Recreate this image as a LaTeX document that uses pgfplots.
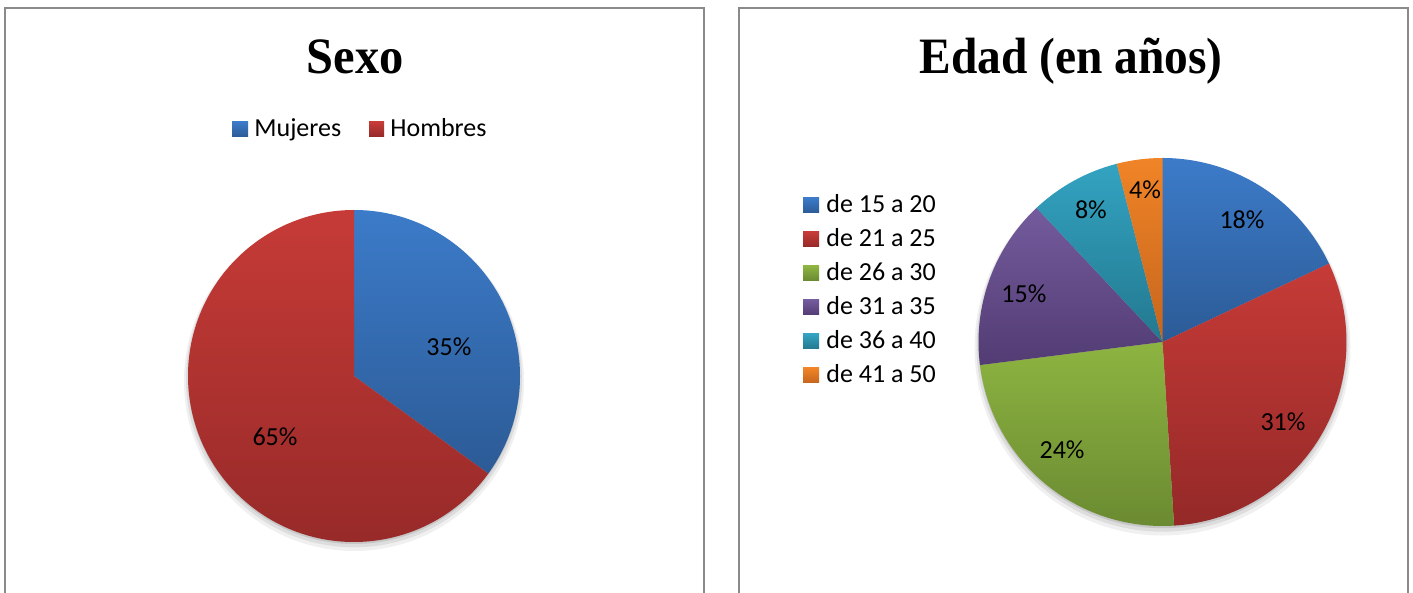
\documentclass[border=0pt]{standalone}
\usepackage{pgfplots}
\pgfplotsset{compat=1.18}
\usepackage{fontspec}
\setmainfont{Carlito}
\newfontfamily\titlefont{Liberation Serif}

\definecolor{blueT}{HTML}{3C7BC9}\definecolor{blueB}{HTML}{2C5B96}
\definecolor{redT}{HTML}{C63B37}\definecolor{redB}{HTML}{942928}
\definecolor{greenT}{HTML}{8DB441}\definecolor{greenB}{HTML}{6A8931}
\definecolor{purT}{HTML}{745B9D}\definecolor{purB}{HTML}{523C73}
\definecolor{tealT}{HTML}{33A3C1}\definecolor{tealB}{HTML}{23788F}
\definecolor{oraT}{HTML}{F08427}\definecolor{oraB}{HTML}{C5651D}
\definecolor{frame}{HTML}{8A8A8A}

% #1 start percent, #2 end percent, #3 radius, #4 top colour, #5 bottom colour
\newcommand{\slice}[5]{%
  \shade[top color=#4,bottom color=#5]
    (axis cs:0,0) -- (axis cs:{cos(90-3.6*(#1))},{sin(90-3.6*(#1))})
    arc[start angle={90-3.6*(#1)}, end angle={90-3.6*(#2)}, radius=#3] -- cycle;}
\newcommand{\pieshadow}[1]{%
  \fill[black,opacity=0.06] (axis cs:0,-0.03) circle[radius=#1+2pt];
  \fill[black,opacity=0.08] (axis cs:0,-0.02) circle[radius=#1+1pt];
  \fill[black,opacity=0.10] (axis cs:0,-0.012) circle[radius=#1];}

\begin{document}
\begin{tikzpicture}[x=0.5pt,y=0.5pt]
\useasboundingbox (0,0) rectangle (1413,593);
\fill[white] (0,0) rectangle (1413,593);

% panel frames
\draw[frame,line width=1pt] (5,0) -- (5,585) -- (704,585) -- (704,0);
\draw[frame,line width=1pt] (739,0) -- (739,585) -- (1408,585) -- (1408,0);

% titles
\node[anchor=base,inner sep=0pt,xscale=0.95,font=\titlefont\bfseries\fontsize{25.5pt}{30pt}\selectfont] at (355,519) {Sexo};
\node[anchor=base,inner sep=0pt,xscale=0.93,font=\titlefont\bfseries\fontsize{25.5pt}{30pt}\selectfont] at (1071,519) {Edad (en años)};

% left legend
\shade[top color=blueT,bottom color=blueB] (232,456) rectangle (248,471);
\node[anchor=base west,inner sep=0pt,font=\fontsize{13pt}{15pt}\selectfont] at (254,456) {Mujeres};
\shade[top color=redT,bottom color=redB] (369,456) rectangle (384,471);
\node[anchor=base west,inner sep=0pt,font=\fontsize{13pt}{15pt}\selectfont] at (390,456) {Hombres};

% right legend
\foreach \k/\ct/\cb/\t in {0/blueT/blueB/de 15 a 20,1/redT/redB/de 21 a 25,2/greenT/greenB/de 26 a 30,3/purT/purB/de 31 a 35,4/tealT/tealB/de 36 a 40,5/oraT/oraB/de 41 a 50}{
  \shade[top color=\ct,bottom color=\cb] (803,{380-34*\k}) rectangle (819,{395-34*\k});
  \node[anchor=base west,inner sep=0pt,font=\fontsize{13pt}{15pt}\selectfont] at (826,{380-34*\k}) {\t};
}

% left pie: Sexo
\begin{axis}[hide axis, clip=false, x=83pt, y=83pt,
  xmin=-1.2, xmax=1.2, ymin=-1.2, ymax=1.2,
  anchor=origin, at={(177pt,108.5pt)}]
  \pieshadow{83pt}
  \slice{0}{35}{83pt}{blueT}{blueB}
  \slice{35}{100}{83pt}{redT}{redB}
  \node[font=\fontsize{13pt}{15pt}\selectfont] at (axis cs:0.572,0.175) {35\%};
  \node[font=\fontsize{13pt}{15pt}\selectfont] at (axis cs:-0.476,-0.367) {65\%};
\end{axis}

% right pie: Edad
\begin{axis}[hide axis, clip=false, x=92pt, y=92pt,
  xmin=-1.2, xmax=1.2, ymin=-1.2, ymax=1.2,
  anchor=origin, at={(581.25pt,125.5pt)}]
  \pieshadow{92pt}
  \slice{0}{18}{92pt}{blueT}{blueB}
  \slice{18}{49}{92pt}{redT}{redB}
  \slice{49}{73}{92pt}{greenT}{greenB}
  \slice{73}{88}{92pt}{purT}{purB}
  \slice{88}{96}{92pt}{tealT}{tealB}
  \slice{96}{100}{92pt}{oraT}{oraB}
  \node[font=\fontsize{13pt}{15pt}\selectfont] at (axis cs:0.432,0.663) {18\%};
  \node[font=\fontsize{13pt}{15pt}\selectfont] at (axis cs:0.655,-0.435) {31\%};
  \node[font=\fontsize{13pt}{15pt}\selectfont] at (axis cs:-0.546,-0.587) {24\%};
  \node[font=\fontsize{13pt}{15pt}\selectfont] at (axis cs:-0.753,0.26) {15\%};
  \node[font=\fontsize{13pt}{15pt}\selectfont] at (axis cs:-0.389,0.717) {8\%};
  \node[font=\fontsize{13pt}{15pt}\selectfont] at (axis cs:-0.095,0.826) {4\%};
\end{axis}
\end{tikzpicture}
\end{document}
